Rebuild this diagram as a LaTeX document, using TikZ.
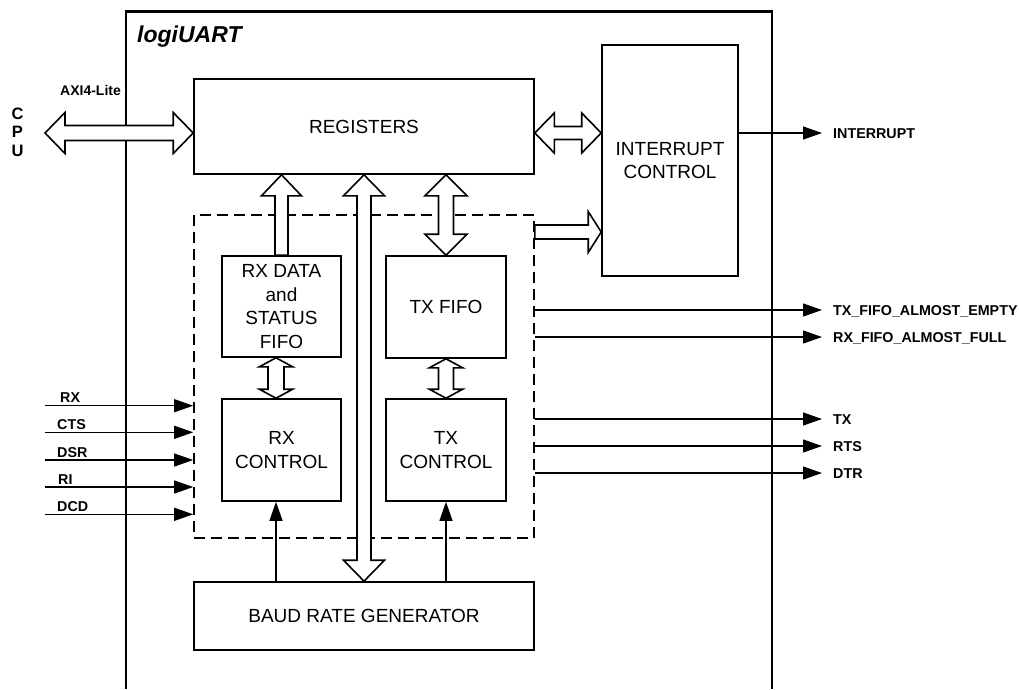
\documentclass[tikz,border=0pt]{standalone}
\usepackage{fontspec}
\setmainfont{Liberation Sans}
\usetikzlibrary{arrows.meta,calc}
\tikzset{
 box/.style={draw, line width=1.6pt, inner sep=0pt, align=center, font=\fontsize{19}{23.5}\selectfont},
 dashbox/.style={draw, line width=1.6pt, dash pattern=on 11pt off 6pt, inner sep=0pt},
 frame/.style={line width=2.3pt},
 fat/.style={draw, fill=white, line width=1.6pt, line join=miter},
 sig/.style={line width=1.1pt, -{Triangle[length=19pt,width=13pt]}},
 lbl/.style={font=\fontsize{14.3}{16}\selectfont\bfseries, inner sep=0pt},
}
% double block arrow, horizontal: #1 left tip, #2 right tip, #3 shaft half, #4 head half, #5 head length
\newcommand\FatDblH[5]{\draw[fat] let \p1=(#1), \p2=(#2) in (\x1,\y1) -- (\x1+#5,\y1+#4) -- (\x1+#5,\y1+#3) -- (\x2-#5,\y1+#3) -- (\x2-#5,\y1+#4) -- (\x2,\y1) -- (\x2-#5,\y1-#4) -- (\x2-#5,\y1-#3) -- (\x1+#5,\y1-#3) -- (\x1+#5,\y1-#4) -- cycle;}
% single block arrow, horizontal: #1 tail, #2 tip (right)
\newcommand\FatSglH[5]{\draw[fat] let \p1=(#1), \p2=(#2) in (\x1,\y1+#3) -- (\x2-#5,\y1+#3) -- (\x2-#5,\y1+#4) -- (\x2,\y1) -- (\x2-#5,\y1-#4) -- (\x2-#5,\y1-#3) -- (\x1,\y1-#3) -- cycle;}
% double block arrow, vertical: #1 top tip, #2 bottom tip
\newcommand\FatDblV[5]{\draw[fat] let \p1=(#1), \p2=(#2) in (\x1,\y1) -- (\x1+#4,\y1-#5) -- (\x1+#3,\y1-#5) -- (\x1+#3,\y2+#5) -- (\x1+#4,\y2+#5) -- (\x1,\y2) -- (\x1-#4,\y2+#5) -- (\x1-#3,\y2+#5) -- (\x1-#3,\y1-#5) -- (\x1-#4,\y1-#5) -- cycle;}
% single block arrow, vertical: #1 top tip, #2 bottom tail
\newcommand\FatSglV[5]{\draw[fat] let \p1=(#1), \p2=(#2) in (\x1,\y1) -- (\x1+#4,\y1-#5) -- (\x1+#3,\y1-#5) -- (\x1+#3,\y2) -- (\x1-#3,\y2) -- (\x1-#3,\y1-#5) -- (\x1-#4,\y1-#5) -- cycle;}
\begin{document}
\begin{tikzpicture}[x=1pt,y=-1pt]
\useasboundingbox (0,0) rectangle (1019,689);
% outer frame
\draw[frame] (126,689) -- (126,11.5) -- (772,11.5) -- (772,689);
\node[font=\fontsize{23}{26}\selectfont\bfseries\itshape, anchor=base west, inner sep=0pt] (title) at (137,42.3) {logiUART};

% blocks
\node[box, minimum width=340pt, minimum height=95pt] (reg) at (364,126.5) {REGISTERS};
\node[box, minimum width=136pt, minimum height=231pt] (intc) at (670,160.5) {INTERRUPT\\CONTROL};
\node[dashbox, minimum width=340pt, minimum height=323pt] (grp) at (364,376.5) {};
\node[box, minimum width=119pt, minimum height=101pt] (rxf) at (281.5,306.5) {RX DATA\\and\\STATUS\\FIFO};
\node[box, minimum width=120pt, minimum height=102pt] (txf) at (446,307) {TX FIFO};
\node[box, minimum width=119pt, minimum height=102pt] (rxc) at (281.5,450) {RX\\CONTROL};
\node[box, minimum width=120pt, minimum height=102pt] (txc) at (446,450) {TX\\CONTROL};
\node[box, minimum width=340pt, minimum height=68pt] (baud) at (364,616) {BAUD RATE GENERATOR};

% CPU side
\node[font=\fontsize{16.5}{18}\selectfont\bfseries, anchor=base, inner sep=0pt] (cpuC) at (17.5,119) {C};
\node[font=\fontsize{16.5}{18}\selectfont\bfseries, anchor=base, inner sep=0pt] (cpuP) at (17.5,137.5) {P};
\node[font=\fontsize{16.5}{18}\selectfont\bfseries, anchor=base, inner sep=0pt] (cpuU) at (17.5,156) {U};
\node[font=\fontsize{14}{16}\selectfont\bfseries, anchor=base west, inner sep=0pt] (axi) at (60,95) {AXI4-Lite};

% helper coordinates
\coordinate (cpu) at (45,133);
\coordinate (busy) at (0,133);
\coordinate (irqy) at (0,232);
\coordinate (rxx) at (276,0);

% block arrows
\FatDblH{cpu}{reg.west |- busy}{7.5pt}{20.5pt}{20pt}
\FatDblH{reg.east |- busy}{intc.west |- busy}{6.5pt}{20pt}{19.5pt}
\FatSglH{grp.east |- irqy}{intc.west |- irqy}{7pt}{20.5pt}{13pt}
\FatSglV{reg.south -| rxf.north}{rxf.north}{6.5pt}{20pt}{21pt}
\FatDblV{reg.south}{baud.north}{7pt}{20.5pt}{21pt}
\FatDblV{reg.south -| txf.north}{txf.north}{7.5pt}{21pt}{21pt}
\FatDblV{rxf.south -| rxx}{rxc.north -| rxx}{8pt}{16.7pt}{9pt}
\FatDblV{txf.south}{txc.north}{7.5pt}{16.7pt}{9pt}

% clock arrows
\draw[sig] (baud.north -| rxx) -- (rxc.south -| rxx);
\draw[sig] (baud.north -| txc.south) -- (txc.south);

% input signals
\foreach \n/\y/\lx in {RX/405.7/60, CTS/432.3/57, DSR/460/57, RI/487/58, DCD/514.3/57} {
  \coordinate (in\n) at (45,\y);
  \draw[sig] (in\n) -- (grp.west |- in\n);
  \node[lbl, anchor=base west] (l\n) at (\lx,\y-3) {\n};
}

% output signals
\foreach \k/\y/\t in {tfe/310/TX\_FIFO\_ALMOST\_EMPTY, rff/337/RX\_FIFO\_ALMOST\_FULL, tx/419/TX, rts/446/RTS, dtr/473/DTR} {
  \coordinate (out\k) at (822,\y);
  \draw[sig] (grp.east |- out\k) -- (out\k);
  \node[lbl, anchor=base west] (l\k) at (833,\y+5.2) {\t};
}
\coordinate (outirq) at (822,133);
\draw[sig] (intc.east |- busy) -- (outirq);
\node[lbl, anchor=base west] (lirq) at (833,138.2) {INTERRUPT};
\end{tikzpicture}
\end{document}
